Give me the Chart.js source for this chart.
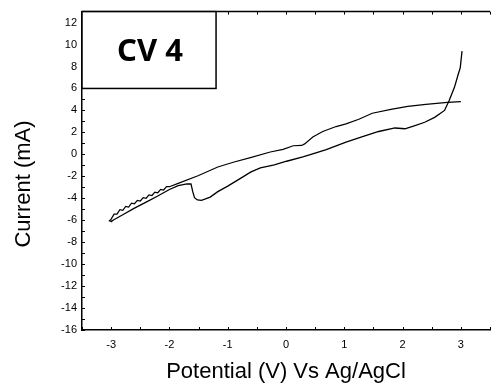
<!DOCTYPE html>
<html>
<head>
<meta charset="utf-8">
<script src="https://cdn.jsdelivr.net/npm/chart.js@4.4.0/dist/chart.umd.min.js"></script>
<style>
html,body{margin:0;padding:0;background:#fff;overflow:hidden;}
#wrap{width:491px;height:390px;overflow:hidden;position:relative;}
canvas{display:block;}
</style>
</head>
<body>
<div id="wrap"><canvas id="c" width="498" height="390"></canvas></div>
<script>
// Branches (V vs Ag/AgCl, mA)
const upperV = [3.0, 2.77, 2.4, 2.09, 1.8, 1.48, 1.25, 1.03, 0.86, 0.63, 0.46, 0.32, 0.27, 0.125, -0.05, -0.27, -0.61, -0.89, -1.17, -1.51, -1.85, -2.0, -2.05, -2.1, -2.15, -2.2, -2.25, -2.3, -2.35, -2.4, -2.45, -2.5, -2.55, -2.6, -2.65, -2.7, -2.75, -2.8, -2.85, -2.9, -2.95, -3.0, -3.03, -2.98];
const upperI = [4.8, 4.73, 4.55, 4.37, 4.1, 3.74, 3.2, 2.78, 2.53, 2.08, 1.57, 0.95, 0.81, 0.78, 0.45, 0.21, -0.3, -0.7, -1.15, -1.95, -2.65, -2.95, -2.95, -3.25, -3.2, -3.5, -3.45, -3.75, -3.7, -4.0, -3.95, -4.25, -4.2, -4.5, -4.45, -4.8, -4.75, -5.1, -5.05, -5.45, -5.45, -5.9, -6.05, -6.15];
const lowerV = [-3.0, -2.8, -2.6, -2.4, -2.2, -2.0, -1.85, -1.7, -1.63, -1.6, -1.57, -1.52, -1.45, -1.3, -1.17, -1.0, -0.83, -0.6, -0.44, -0.2, 0.01, 0.29, 0.5, 0.69, 1.03, 1.3, 1.59, 1.87, 2.04, 2.2, 2.38, 2.55, 2.72, 2.8, 2.89, 2.95, 2.99, 3.02];
const lowerI = [-6.1, -5.5, -4.9, -4.35, -3.8, -3.2, -2.85, -2.7, -2.7, -3.4, -3.95, -4.15, -4.2, -3.9, -3.4, -2.9, -2.35, -1.6, -1.24, -0.95, -0.63, -0.24, 0.1, 0.43, 1.11, 1.6, 2.08, 2.4, 2.33, 2.6, 2.92, 3.37, 4.0, 4.9, 6.1, 7.2, 7.9, 9.4];
const xLabels = [-3, -2, -1, 0, 1, 2, 3];
const yLabels = [-16, -14, -12, -10, -8, -6, -4, -2, 0, 2, 4, 6, 8, 10, 12];
const boxText = "CV 4";
const xTitle = "Potential (V) Vs Ag/AgCl";
const yTitle = "Current (mA)";

const toPts = (xs, ys) => xs.map((x, i) => ({x: x, y: ys[i]}));

const decor = {
  id: 'decor',
  afterDraw(chart) {
    const ctx = chart.ctx, a = chart.chartArea;
    const xs = chart.scales.x, ys = chart.scales.y;
    ctx.save();
    ctx.strokeStyle = '#000';
    ctx.lineWidth = 1.5;
    ctx.beginPath(); ctx.moveTo(a.left, a.top); ctx.lineTo(a.right, a.top); ctx.stroke();
    ctx.lineWidth = 1;
    for (let v = -3.5; v <= 3.5001; v += 0.5) {
      const px = Math.round(xs.getPixelForValue(v)) + 0.5;
      ctx.beginPath(); ctx.moveTo(px, a.bottom); ctx.lineTo(px, a.bottom - 3); ctx.stroke();
      ctx.beginPath(); ctx.moveTo(px, a.top); ctx.lineTo(px, a.top + 3); ctx.stroke();
    }
    for (let v = -16; v <= 13; v += 1) {
      const py = Math.round(ys.getPixelForValue(v)) + 0.5;
      ctx.beginPath(); ctx.moveTo(a.left, py); ctx.lineTo(a.left + 3, py); ctx.stroke();
    }
    const bx0 = xs.getPixelForValue(-3.5), bx1 = xs.getPixelForValue(-1.2);
    const by0 = ys.getPixelForValue(13), by1 = ys.getPixelForValue(6);
    ctx.fillStyle = '#fff';
    ctx.fillRect(bx0, by0, bx1 - bx0, by1 - by0);
    ctx.lineWidth = 1.5;
    ctx.strokeRect(bx0, by0, bx1 - bx0, by1 - by0);
    ctx.fillStyle = '#000';
    ctx.font = 'bold 31px "Noto Sans", sans-serif';
    ctx.textAlign = 'center'; ctx.textBaseline = 'middle';
    ctx.fillText(boxText, (bx0 + bx1) / 2 + 1, (by0 + by1) / 2 + 2);
    ctx.font = '22px "Liberation Sans", Arial, sans-serif';
    ctx.fillText(xTitle, 286, 372);
    ctx.translate(24, 184);
    ctx.rotate(-Math.PI / 2);
    ctx.fillText(yTitle, 0, 0);
    ctx.restore();
  }
};

new Chart(document.getElementById('c'), {
  type: 'scatter',
  data: {
    datasets: [
      {data: toPts(upperV, upperI), showLine: true, borderColor: '#000', borderWidth: 1.2, pointRadius: 0, tension: 0},
      {data: toPts(lowerV, lowerI), showLine: true, borderColor: '#000', borderWidth: 1.3, pointRadius: 0, tension: 0}
    ]
  },
  options: {
    responsive: false,
    animation: false,
    layout: {padding: {top: 11, right: 1, left: 0, bottom: 0}},
    plugins: {legend: {display: false}, tooltip: {enabled: false}},
    scales: {
      x: {
        type: 'linear', min: -3.5, max: 3.5,
        afterFit: s => { s.height = 60; },
        ticks: {
          stepSize: 0.5, padding: 8, color: '#000', autoSkip: false, maxRotation: 0,
          font: {family: '"Liberation Sans", Arial, sans-serif', size: 11},
          callback: v => xLabels.includes(v) ? String(v) : ''
        },
        grid: {drawOnChartArea: false, drawTicks: false},
        border: {display: true, color: '#000', width: 1.5}
      },
      y: {
        type: 'linear', min: -16, max: 13,
        afterFit: s => { s.width = 82; },
        ticks: {
          stepSize: 1, padding: 5, color: '#000', autoSkip: false,
          font: {family: '"Liberation Sans", Arial, sans-serif', size: 11},
          callback: v => yLabels.includes(v) ? String(v) : ''
        },
        grid: {drawOnChartArea: false, drawTicks: false},
        border: {display: true, color: '#000', width: 1.5}
      }
    }
  },
  plugins: [decor]
});
</script>
</body>
</html>
